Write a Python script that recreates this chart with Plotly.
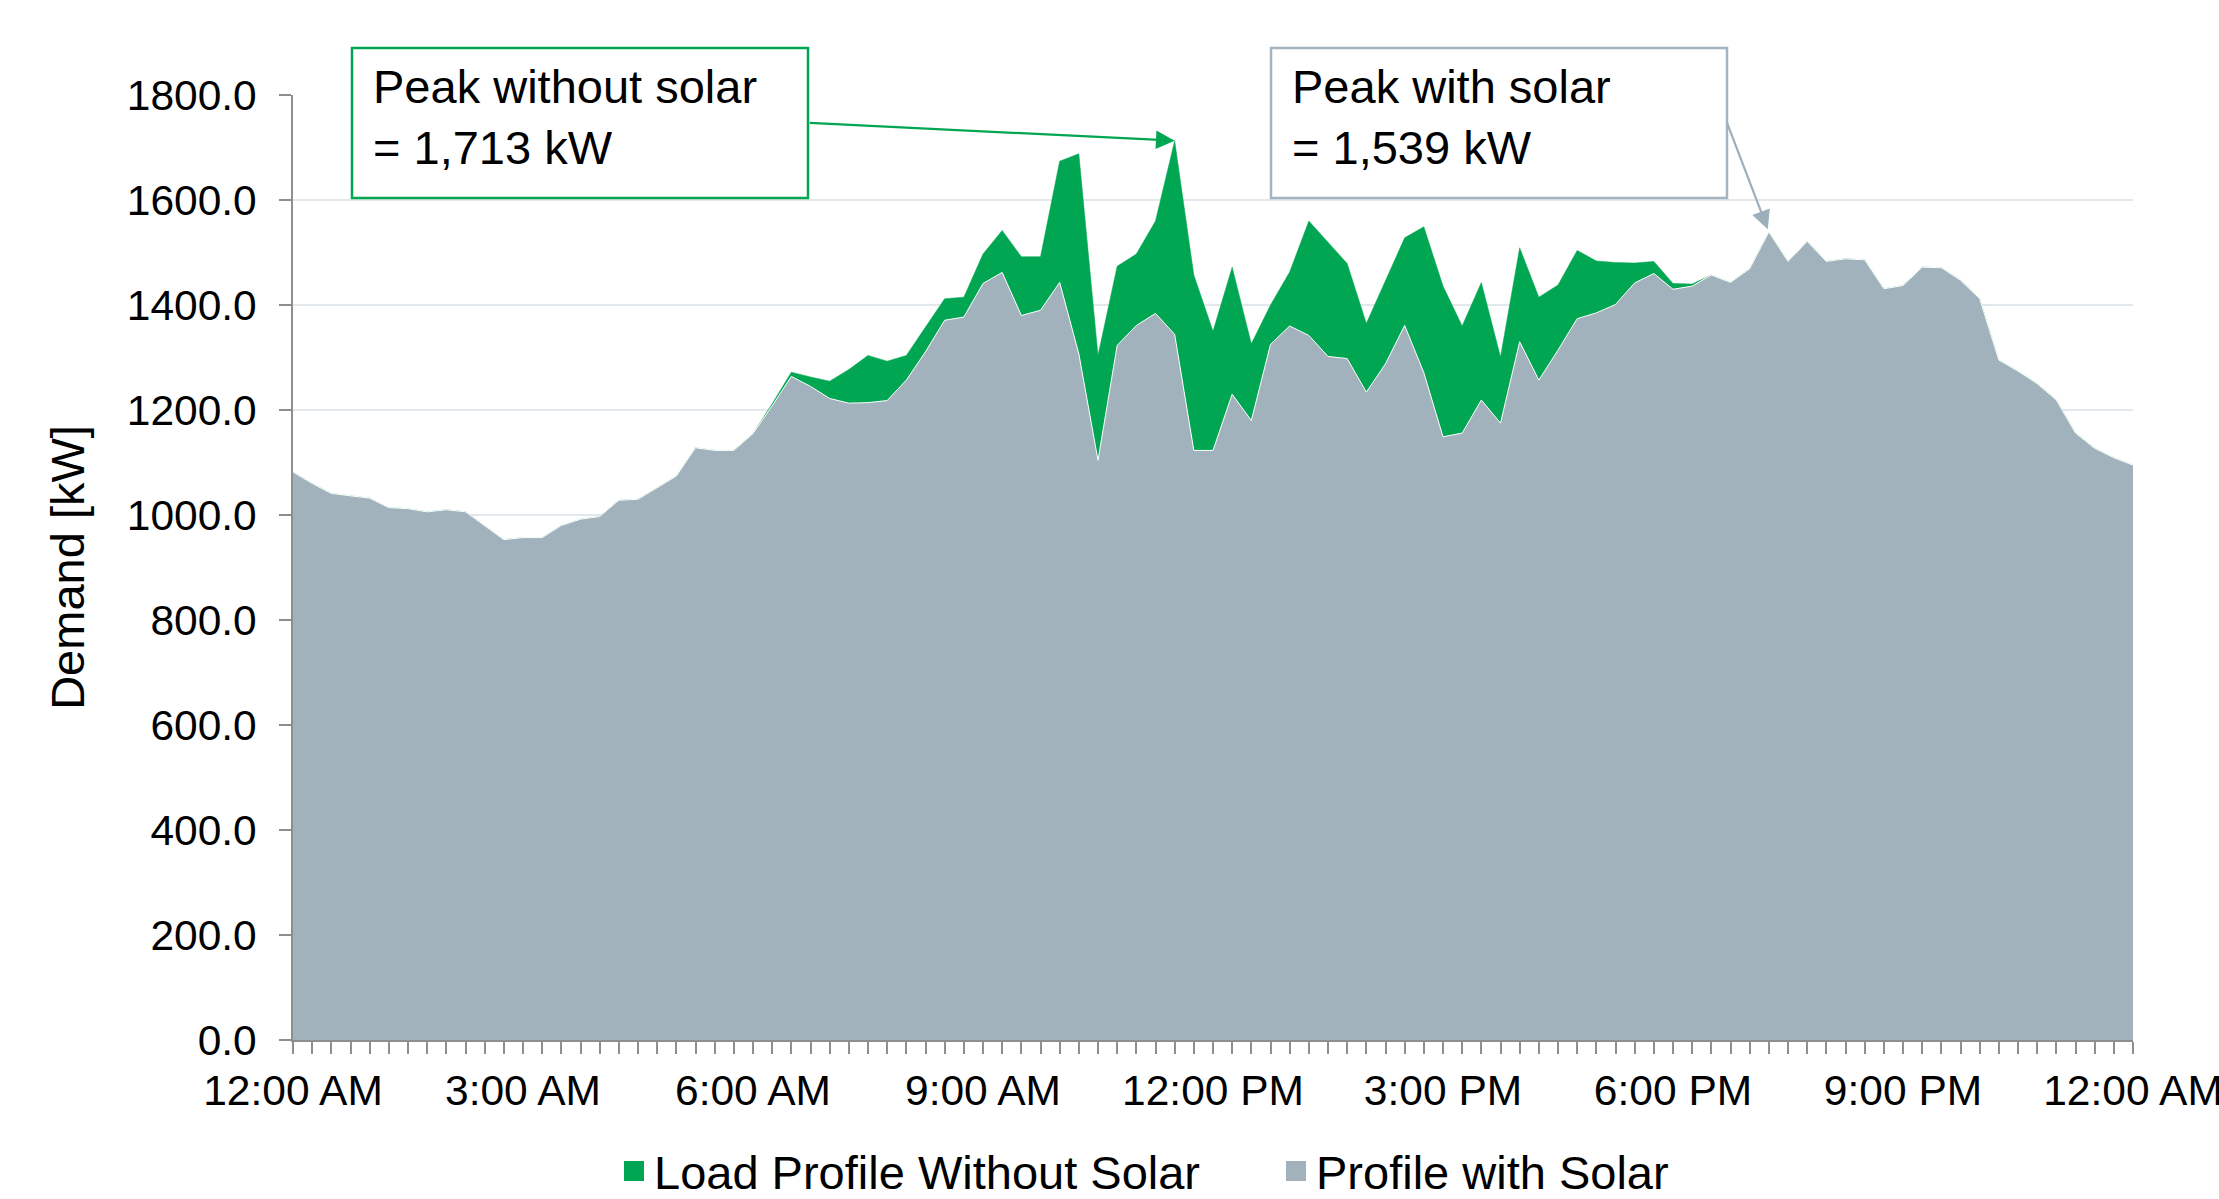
import numpy as np
import plotly.graph_objects as go

# Daily demand profile, 15-minute intervals from midnight to midnight (kW)
profile_with_solar = [
    1082, 1060, 1041, 1036, 1032, 1014, 1012, 1006, 1010, 1006, 980, 953,
    957, 957, 980, 992, 997, 1028, 1030, 1052, 1074, 1128, 1123, 1123,
    1155, 1208, 1264, 1245, 1222, 1213, 1214, 1218, 1257, 1311, 1371, 1377,
    1441, 1462, 1380, 1390, 1443, 1307, 1104, 1323, 1361, 1384, 1344, 1123,
    1123, 1230, 1180, 1325, 1360, 1342, 1302, 1298, 1234, 1288, 1361, 1271,
    1149, 1156, 1219, 1175, 1330, 1257, 1314, 1374, 1385, 1401, 1442, 1460,
    1430, 1436, 1457, 1443, 1469, 1539, 1483, 1521, 1483, 1488, 1486, 1431,
    1437, 1472, 1471, 1447, 1412, 1295, 1274, 1250, 1219, 1156, 1127, 1109,
    1095,
]

load_without_solar = [
    1082, 1060, 1041, 1036, 1032, 1014, 1012, 1006, 1010, 1006, 980, 953,
    957, 957, 980, 992, 997, 1028, 1030, 1052, 1074, 1128, 1123, 1123,
    1155, 1212, 1272, 1263, 1255, 1277, 1304, 1293, 1304, 1358, 1412, 1415,
    1497, 1542, 1492, 1492, 1674, 1688, 1304, 1474, 1497, 1560, 1713, 1457,
    1350, 1472, 1326, 1400, 1463, 1560, 1520, 1479, 1365, 1447, 1528, 1549,
    1436, 1360, 1443, 1301, 1509, 1415, 1438, 1504, 1484, 1481, 1480, 1483,
    1441, 1440, 1457, 1443, 1469, 1539, 1483, 1521, 1483, 1488, 1486, 1431,
    1437, 1472, 1471, 1447, 1412, 1295, 1274, 1250, 1219, 1156, 1127, 1109,
    1095,
]

series_names = ["Load Profile Without Solar", "Profile with Solar"]
tick_hours = [0, 3, 6, 9, 12, 15, 18, 21, 24]
tick_labels = ["12:00 AM", "3:00 AM", "6:00 AM", "9:00 AM", "12:00 PM",
               "3:00 PM", "6:00 PM", "9:00 PM", "12:00 AM"]

GREEN = "#00A651"
GREY = "#A1B2BD"
AXIS = "#8E8E8E"
GRID = "#E3E8EC"
FONT = "Liberation Sans, Arial, sans-serif"
TICK_FS = 42.5
TEXT_FS = 47

hours = np.arange(len(profile_with_solar)) * 0.25

fig = go.Figure()

# Load without solar sits behind; profile with solar is drawn over it
fig.add_trace(go.Scatter(
    x=hours, y=load_without_solar, mode="lines", fill="tozeroy",
    line=dict(color=GREEN, width=0.5), fillcolor=GREEN,
    showlegend=False, hoverinfo="skip",
))
fig.add_trace(go.Scatter(
    x=hours, y=profile_with_solar, mode="lines", fill="tozeroy",
    line=dict(color="white", width=1), fillcolor=GREY,
    showlegend=False, hoverinfo="skip",
))

# Square legend entries
for name, col in zip(series_names, [GREEN, GREY]):
    fig.add_trace(go.Scatter(
        x=[None], y=[None], mode="markers", name=name,
        marker=dict(symbol="square", size=16, color=col,
                    line=dict(color=col, width=4)),
    ))

# Peak callouts
peak_no_solar_i = int(np.argmax(load_without_solar))
peak_solar_i = int(np.argmax(profile_with_solar))
peak_no_solar = load_without_solar[peak_no_solar_i]
peak_solar = profile_with_solar[peak_solar_i]

W, H = 2219, 1199
L, R, T, B = 293, 86, 95, 159
pw, ph = W - L - R, H - T - B


def px_x(p):
    return (p - L) / pw


def px_y(p):
    return (H - B - p) / ph


shapes = [
    dict(type="rect", xref="paper", yref="paper",
         x0=px_x(352), x1=px_x(808), y0=px_y(198), y1=px_y(48),
         line=dict(color=GREEN, width=2.5), fillcolor="white", layer="above"),
    dict(type="rect", xref="paper", yref="paper",
         x0=px_x(1271), x1=px_x(1727), y0=px_y(198), y1=px_y(48),
         line=dict(color="#A3B4C0", width=2.5), fillcolor="white", layer="above"),
]

annotations = [
    dict(xref="paper", yref="paper", x=px_x(371), y=px_y(117),
         xanchor="left", yanchor="middle", align="left", showarrow=False,
         text=f"Peak without solar<br>= {peak_no_solar:,.0f} kW",
         font=dict(family=FONT, size=TEXT_FS, color="black")),
    dict(xref="paper", yref="paper", x=px_x(1290), y=px_y(117),
         xanchor="left", yanchor="middle", align="left", showarrow=False,
         text=f"Peak with solar<br>= {peak_solar:,.0f} kW",
         font=dict(family=FONT, size=TEXT_FS, color="black")),
    dict(x=hours[peak_no_solar_i], y=peak_no_solar, xref="x", yref="y",
         ax=6.72, ay=1747, axref="x", ayref="y", text="", showarrow=True,
         arrowhead=2, arrowsize=1.7, arrowwidth=2.2, arrowcolor=GREEN),
    dict(x=hours[peak_solar_i], y=peak_solar, xref="x", yref="y",
         ax=18.70, ay=1749, axref="x", ayref="y", text="", showarrow=True,
         arrowhead=2, arrowsize=1.7, arrowwidth=2.2, arrowcolor="#9DAFBB",
         standoff=3),
]

fig.update_layout(
    width=W, height=H,
    margin=dict(l=L, r=R, t=T, b=B, pad=0, autoexpand=False),
    paper_bgcolor="white", plot_bgcolor="white",
    font=dict(family=FONT, size=TICK_FS, color="black"),
    shapes=shapes, annotations=annotations,
    legend=dict(orientation="h", xanchor="left", x=px_x(614),
                yanchor="top", y=px_y(1134), font=dict(size=TEXT_FS),
                bgcolor="rgba(0,0,0,0)", entrywidth=617, entrywidthmode="pixels",
                itemclick=False),
    xaxis=dict(
        range=[0, 24], tickmode="array", tickvals=tick_hours, ticktext=tick_labels,
        ticks="outside", ticklen=12, tickwidth=1.5, tickcolor=AXIS,
        showline=True, linecolor=AXIS, linewidth=1.5, showgrid=False, zeroline=False,
        tickfont=dict(size=TICK_FS), ticklabeloverflow="allow",
        minor=dict(tickmode="linear", tick0=0, dtick=0.25, ticks="outside",
                   ticklen=12, tickwidth=1.5, tickcolor=AXIS, showgrid=False),
    ),
    yaxis=dict(
        range=[0, 1800], tick0=0, dtick=200, tickformat=".1f",
        ticks="outside", ticklen=12, tickwidth=1.5, tickcolor=AXIS,
        showline=True, linecolor=AXIS, linewidth=1.5,
        showgrid=True, gridcolor=GRID, gridwidth=1.5, zeroline=False,
        tickfont=dict(size=TICK_FS), ticklabelstandoff=14,
        title=dict(text="Demand [kW]", font=dict(size=TEXT_FS), standoff=27),
    ),
)

fig.write_html("out.html", include_plotlyjs=True, config={"displayModeBar": False})
